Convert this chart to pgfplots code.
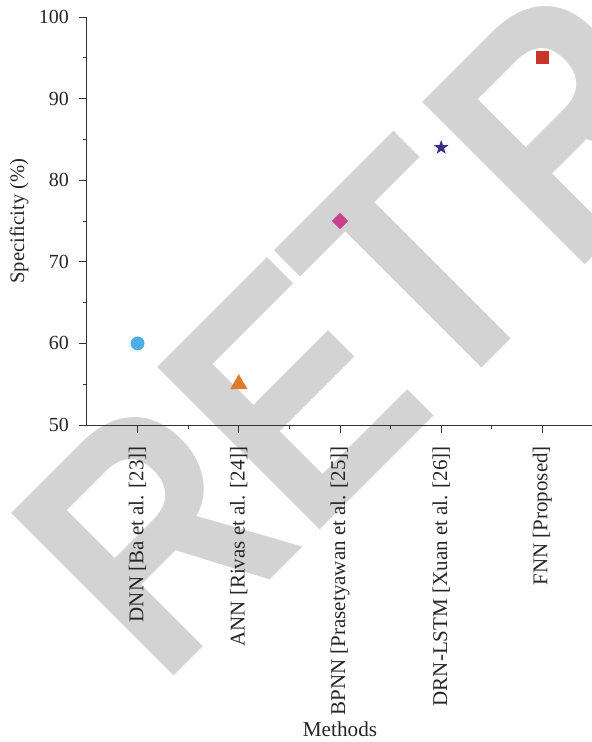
\documentclass[border=0pt]{standalone}
\usepackage{pgfplots}
\pgfplotsset{compat=1.18}
\usepackage{graphicx}
\usepackage{fontspec}
\setmainfont{Liberation Serif}
\newfontfamily\wmfont{Liberation Sans}[BoldFont={* Bold}]
\usetikzlibrary{backgrounds}
\definecolor{cDNN}{HTML}{4DAFE4}
\definecolor{cANN}{HTML}{DB7B2B}
\definecolor{cBPNN}{HTML}{C9418F}
\definecolor{cDRN}{HTML}{3A2C88}
\definecolor{cFNN}{HTML}{C9352A}
\definecolor{wmgray}{HTML}{D3D3D3}
\definecolor{axc}{HTML}{333333}
\pgfdeclareplotmark{fivestar}{%
  \pgfpathmoveto{\pgfqpointpolar{90}{\pgfplotmarksize}}%
  \pgfpathlineto{\pgfqpointpolar{126}{0.4\pgfplotmarksize}}%
  \pgfpathlineto{\pgfqpointpolar{162}{\pgfplotmarksize}}%
  \pgfpathlineto{\pgfqpointpolar{198}{0.4\pgfplotmarksize}}%
  \pgfpathlineto{\pgfqpointpolar{234}{\pgfplotmarksize}}%
  \pgfpathlineto{\pgfqpointpolar{270}{0.4\pgfplotmarksize}}%
  \pgfpathlineto{\pgfqpointpolar{306}{\pgfplotmarksize}}%
  \pgfpathlineto{\pgfqpointpolar{342}{0.4\pgfplotmarksize}}%
  \pgfpathlineto{\pgfqpointpolar{18}{\pgfplotmarksize}}%
  \pgfpathlineto{\pgfqpointpolar{54}{0.4\pgfplotmarksize}}%
  \pgfpathclose
  \pgfusepathqfill
}
\newcommand\wm[1]{\scalebox{0.86}[1]{#1}}
\begin{document}
\begin{tikzpicture}[x=1pt,y=1pt]
\begin{axis}[
  at={(0,0)}, anchor=south west,
  scale only axis, width=253pt, height=204pt,
  xmin=-0.5, xmax=4.5, ymin=50, ymax=100,
  axis x line*=bottom, axis y line*=left,
  axis line style={line width=0.5pt, color=axc},
  xtick={0,1,2,3,4},
  xticklabels={DNN [Ba et al. [23]], ANN [Rivas et al. [24]], BPNN [Prasetyawan et al. [25]], DRN-LSTM [Xuan et al. [26]], FNN [Proposed]},
  minor xtick={0.5,1.5,2.5,3.5},
  ytick={50,60,70,80,90,100},
  minor ytick={55,65,75,85,95},
  tick align=outside,
  major tick length=4pt, minor tick length=2pt,
  tick style={line width=0.5pt, color=axc},
  /pgf/number format/assume math mode=true,
  yticklabel shift=1.5pt,
  xticklabel shift=3pt,
  yticklabel style={font=\fontsize{10}{12}\selectfont, text=black!85},
  xticklabel style={font=\fontsize{10.5}{12}\selectfont, rotate=90, anchor=east, text=black!85},
  every axis y label/.style={at={(axis description cs:0,0.5)}, xshift=-34pt, rotate=90, anchor=center, font=\fontsize{10.3}{12}\selectfont, text=black!85},
  every axis x label/.style={at={(axis description cs:0.5,0)}, yshift=-152.25pt, anchor=center, font=\fontsize{10.6}{12}\selectfont, text=black!85},
  ylabel={Specificity (\%)},
  xlabel={Methods},
  clip=false,
]
\addplot[only marks, mark=*, mark size=3.25pt, color=cDNN] coordinates {(0,60)};
\addplot[only marks, mark=triangle*, mark size=4.6pt, color=cANN] coordinates {(1,55)};
\addplot[only marks, mark=square*, mark size=2.65pt, mark options={rotate=45}, color=cBPNN] coordinates {(2,75)};
\addplot[only marks, mark=fivestar, mark size=3.8pt, color=cDRN, fill=cDRN] coordinates {(3,84)};
\addplot[only marks, mark=square*, mark size=3pt, color=cFNN] coordinates {(4,95)};
\end{axis}
\begin{scope}[on background layer]
\clip (-43.5,-158.5) rectangle (252.5,212.5);
\begin{scope}[shift={(169,0)}, rotate=45, transform shape,
  every node/.style={anchor=base west, inner sep=0pt, text=wmgray, font=\wmfont\bfseries\fontsize{167}{167}\selectfont}]
\node at (-187.3,0) {\wm{R}};
\node at (-84.05,0) {\wm{E}};
\node at (6.4,0) {\wm{T}};
\node at (103.2,0) {\wm{R}};
\node at (207,0) {\wm{ACTED}};
\end{scope}
\end{scope}
\pgfresetboundingbox
\useasboundingbox (-43.5,-158.5) rectangle (252.5,212.5);
\end{tikzpicture}
\end{document}
